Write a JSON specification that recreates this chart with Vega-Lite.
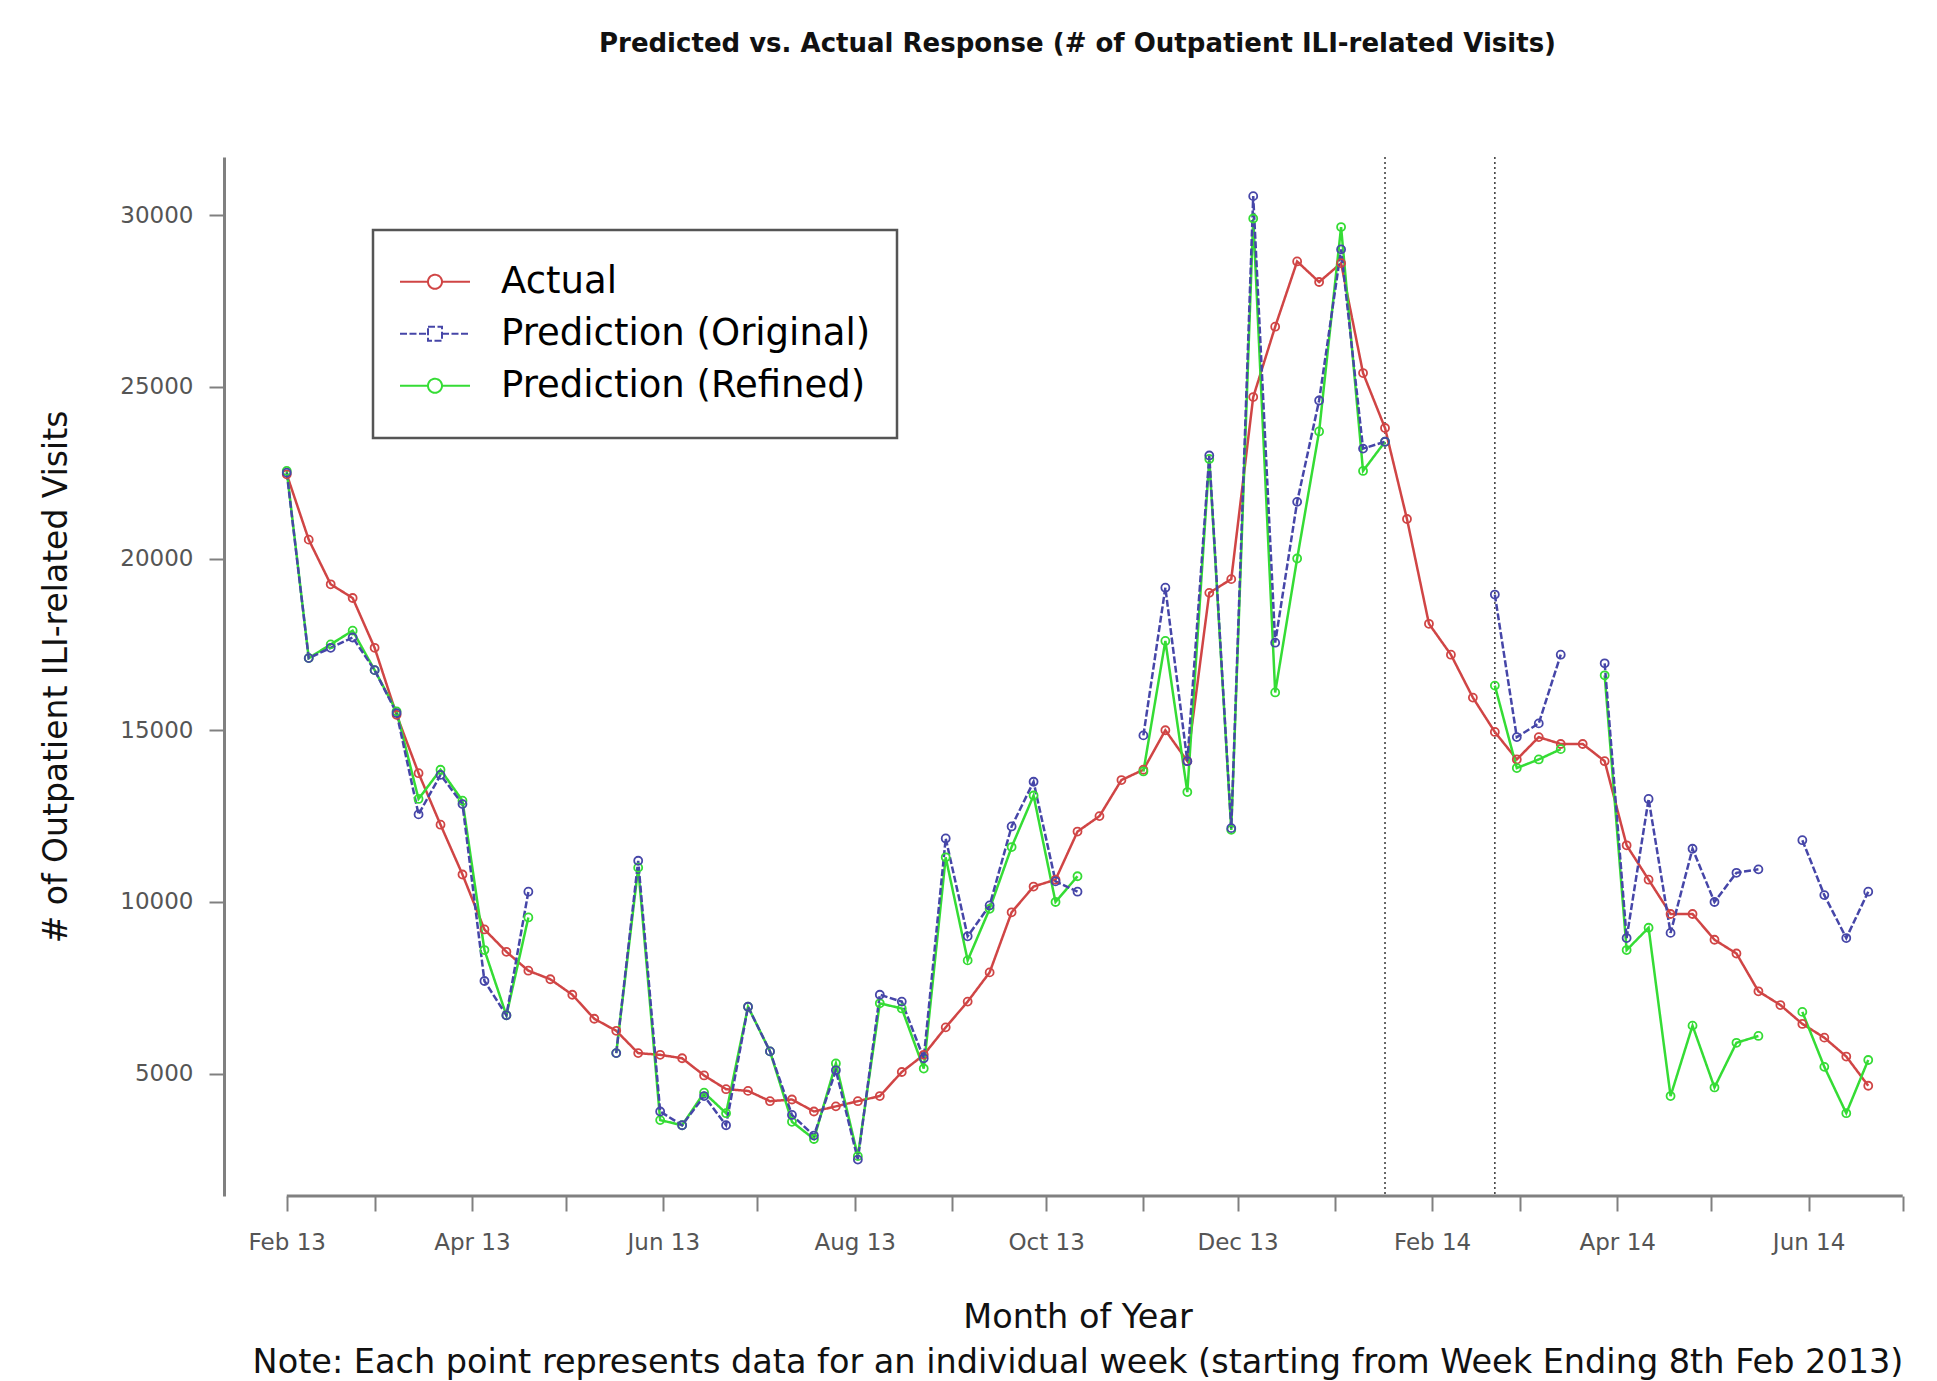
{
  "$schema": "https://vega.github.io/schema/vega-lite/v6.json",
  "width": 1707,
  "height": 1039,
  "autosize": "none",
  "padding": {"left": 224, "top": 157, "right": 6, "bottom": 185},
  "background": "white",
  "config": {"view": {"stroke": null}, "font": "DejaVu Sans"},
  "title": {
    "text": "Predicted vs. Actual Response (# of Outpatient ILI-related Visits)",
    "anchor": "middle",
    "frame": "group",
    "font": "DejaVu Sans",
    "fontSize": 26,
    "fontWeight": "bold",
    "color": "#111111",
    "baseline": "alphabetic",
    "offset": 78
  },
  "data": {
    "values": [
      {"d": "2013-02-08", "A": 22450, "O": 22500, "R": 22550},
      {"d": "2013-02-15", "A": 20550, "O": 17100, "R": 17100},
      {"d": "2013-02-22", "A": 19250, "O": 17400, "R": 17500},
      {"d": "2013-03-01", "A": 18850, "O": 17700, "R": 17900},
      {"d": "2013-03-08", "A": 17400, "O": 16750, "R": 16750},
      {"d": "2013-03-15", "A": 15450, "O": 15500, "R": 15550},
      {"d": "2013-03-22", "A": 13750, "O": 12550, "R": 13000},
      {"d": "2013-03-29", "A": 12250, "O": 13700, "R": 13850},
      {"d": "2013-04-05", "A": 10800, "O": 12850, "R": 12950},
      {"d": "2013-04-12", "A": 9200, "O": 7700, "R": 8600},
      {"d": "2013-04-19", "A": 8550, "O": 6700, "R": 6700},
      {"d": "2013-04-26", "A": 8000, "O": 10300, "R": 9550},
      {"d": "2013-05-03", "A": 7750, "O": null, "R": null},
      {"d": "2013-05-10", "A": 7300, "O": null, "R": null},
      {"d": "2013-05-17", "A": 6600, "O": null, "R": null},
      {"d": "2013-05-24", "A": 6250, "O": 5600, "R": 5600},
      {"d": "2013-05-31", "A": 5600, "O": 11200, "R": 11000},
      {"d": "2013-06-07", "A": 5550, "O": 3900, "R": 3650},
      {"d": "2013-06-14", "A": 5450, "O": 3500, "R": 3500},
      {"d": "2013-06-21", "A": 4950, "O": 4350, "R": 4450},
      {"d": "2013-06-28", "A": 4550, "O": 3500, "R": 3850},
      {"d": "2013-07-05", "A": 4500, "O": 6950, "R": 6950},
      {"d": "2013-07-12", "A": 4200, "O": 5650, "R": 5650},
      {"d": "2013-07-19", "A": 4250, "O": 3800, "R": 3600},
      {"d": "2013-07-26", "A": 3900, "O": 3200, "R": 3100},
      {"d": "2013-08-02", "A": 4050, "O": 5100, "R": 5300},
      {"d": "2013-08-09", "A": 4200, "O": 2500, "R": 2600},
      {"d": "2013-08-16", "A": 4350, "O": 7300, "R": 7050},
      {"d": "2013-08-23", "A": 5050, "O": 7100, "R": 6900},
      {"d": "2013-08-30", "A": 5550, "O": 5450, "R": 5150},
      {"d": "2013-09-06", "A": 6350, "O": 11850, "R": 11300},
      {"d": "2013-09-13", "A": 7100, "O": 9000, "R": 8300},
      {"d": "2013-09-20", "A": 7950, "O": 9900, "R": 9800},
      {"d": "2013-09-27", "A": 9700, "O": 12200, "R": 11600},
      {"d": "2013-10-04", "A": 10450, "O": 13500, "R": 13100},
      {"d": "2013-10-11", "A": 10650, "O": 10600, "R": 10000},
      {"d": "2013-10-18", "A": 12050, "O": 10300, "R": 10750},
      {"d": "2013-10-25", "A": 12500, "O": null, "R": null},
      {"d": "2013-11-01", "A": 13550, "O": null, "R": null},
      {"d": "2013-11-08", "A": 13850, "O": 14850, "R": 13800},
      {"d": "2013-11-15", "A": 15000, "O": 19150, "R": 17600},
      {"d": "2013-11-22", "A": 14100, "O": 14100, "R": 13200},
      {"d": "2013-11-29", "A": 19000, "O": 23000, "R": 22900},
      {"d": "2013-12-06", "A": 19400, "O": 12150, "R": 12100},
      {"d": "2013-12-13", "A": 24700, "O": 30550, "R": 29900},
      {"d": "2013-12-20", "A": 26750, "O": 17550, "R": 16100},
      {"d": "2013-12-27", "A": 28650, "O": 21650, "R": 20000},
      {"d": "2014-01-03", "A": 28050, "O": 24600, "R": 23700},
      {"d": "2014-01-10", "A": 28600, "O": 29000, "R": 29650},
      {"d": "2014-01-17", "A": 25400, "O": 23200, "R": 22550},
      {"d": "2014-01-24", "A": 23800, "O": 23400, "R": 23400},
      {"d": "2014-01-31", "A": 21150, "O": null, "R": null},
      {"d": "2014-02-07", "A": 18100, "O": null, "R": null},
      {"d": "2014-02-14", "A": 17200, "O": null, "R": null},
      {"d": "2014-02-21", "A": 15950, "O": null, "R": null},
      {"d": "2014-02-28", "A": 14950, "O": 18950, "R": 16300},
      {"d": "2014-03-07", "A": 14150, "O": 14800, "R": 13900},
      {"d": "2014-03-14", "A": 14800, "O": 15200, "R": 14150},
      {"d": "2014-03-21", "A": 14600, "O": 17200, "R": 14450},
      {"d": "2014-03-28", "A": 14600, "O": null, "R": null},
      {"d": "2014-04-04", "A": 14100, "O": 16950, "R": 16600},
      {"d": "2014-04-11", "A": 11650, "O": 8950, "R": 8600},
      {"d": "2014-04-18", "A": 10650, "O": 13000, "R": 9250},
      {"d": "2014-04-25", "A": 9650, "O": 9100, "R": 4350},
      {"d": "2014-05-02", "A": 9650, "O": 11550, "R": 6400},
      {"d": "2014-05-09", "A": 8900, "O": 10000, "R": 4600},
      {"d": "2014-05-16", "A": 8500, "O": 10850, "R": 5900},
      {"d": "2014-05-23", "A": 7400, "O": 10950, "R": 6100},
      {"d": "2014-05-30", "A": 7000, "O": null, "R": null},
      {"d": "2014-06-06", "A": 6450, "O": 11800, "R": 6800},
      {"d": "2014-06-13", "A": 6050, "O": 10200, "R": 5200},
      {"d": "2014-06-20", "A": 5500, "O": 8950, "R": 3850},
      {"d": "2014-06-27", "A": 4650, "O": 10300, "R": 5400}
    ]
  },
  "layer": [
    {
      "data": {"values": [{"d": "2014-01-24"}, {"d": "2014-02-28"}]},
      "mark": {"type": "rule", "color": "#444444", "strokeWidth": 1.6, "strokeDash": [2, 3]},
      "encoding": {"x": {"field": "d", "type": "temporal"}}
    },
    {
      "data": {"values": [{}]},
      "mark": {"type": "rule", "color": "#808080", "strokeWidth": 3},
      "encoding": {
        "x": {"datum": {"year": 2013, "month": 2, "date": 8, "utc": true}, "type": "temporal"},
        "x2": {"datum": {"year": 2014, "month": 7, "date": 8, "utc": true}},
        "y": {"datum": 1440, "type": "quantitative"}
      }
    },
    {
      "transform": [{"fold": ["A", "R", "O"], "as": ["s", "v"]}],
      "mark": {"type": "line", "strokeWidth": 2.5, "invalid": "break-paths-filter-domains"},
      "encoding": {
        "x": {
          "field": "d",
          "type": "temporal",
          "scale": {
            "type": "utc",
            "nice": false,
            "domain": [
              {"year": 2013, "month": 1, "date": 19, "utc": true},
              {"year": 2014, "month": 7, "date": 17, "utc": true}
            ]
          },
          "axis": {
            "values": [
              {"year": 2013, "month": 2, "date": 8, "utc": true},
              {"year": 2013, "month": 3, "date": 8, "utc": true},
              {"year": 2013, "month": 4, "date": 8, "utc": true},
              {"year": 2013, "month": 5, "date": 8, "utc": true},
              {"year": 2013, "month": 6, "date": 8, "utc": true},
              {"year": 2013, "month": 7, "date": 8, "utc": true},
              {"year": 2013, "month": 8, "date": 8, "utc": true},
              {"year": 2013, "month": 9, "date": 8, "utc": true},
              {"year": 2013, "month": 10, "date": 8, "utc": true},
              {"year": 2013, "month": 11, "date": 8, "utc": true},
              {"year": 2013, "month": 12, "date": 8, "utc": true},
              {"year": 2014, "month": 1, "date": 8, "utc": true},
              {"year": 2014, "month": 2, "date": 8, "utc": true},
              {"year": 2014, "month": 3, "date": 8, "utc": true},
              {"year": 2014, "month": 4, "date": 8, "utc": true},
              {"year": 2014, "month": 5, "date": 8, "utc": true},
              {"year": 2014, "month": 6, "date": 8, "utc": true},
              {"year": 2014, "month": 7, "date": 8, "utc": true}
            ],
            "labelExpr": "utcmonth(datum.value) % 2 == 1 ? utcFormat(datum.value, '%b %y') : ''",
            "labelOverlap": false,
            "labelFlush": false,
            "labelFont": "DejaVu Sans",
            "labelFontSize": 23,
            "labelColor": "#555555",
            "labelPadding": 20,
            "tickSize": 15,
            "tickWidth": 2,
            "tickColor": "#808080",
            "domain": false,
            "grid": false,
            "title": ["Month of Year", "Note: Each point represents data for an individual week (starting from Week Ending 8th Feb 2013)"],
            "titleFont": "DejaVu Sans",
            "titleFontSize": 33.5,
            "titleFontWeight": "normal",
            "titleColor": "#111111",
            "titleLineHeight": 45,
            "titleBaseline": "alphabetic",
            "titleY": 131
          }
        },
        "y": {
          "field": "v",
          "type": "quantitative",
          "scale": {"domain": [1440, 31690], "nice": false, "zero": false},
          "axis": {
            "values": [5000, 10000, 15000, 20000, 25000, 30000],
            "format": "d",
            "labelFont": "DejaVu Sans",
            "labelFontSize": 23,
            "labelColor": "#555555",
            "labelPadding": 16,
            "tickSize": 15,
            "tickWidth": 2,
            "tickColor": "#808080",
            "domainColor": "#808080",
            "domainWidth": 3,
            "grid": false,
            "title": "# of Outpatient ILI-related Visits",
            "titleFont": "DejaVu Sans",
            "titleFontSize": 33,
            "titleFontWeight": "normal",
            "titleColor": "#111111",
            "titleX": -168,
            "titleBaseline": "middle"
          }
        },
        "color": {
          "field": "s",
          "type": "nominal",
          "scale": {"domain": ["A", "O", "R"], "range": ["#d04545", "#4646a8", "#35dc35"]},
          "legend": {
            "orient": "none",
            "legendX": 149,
            "legendY": 73,
            "title": null,
            "padding": 26,
            "fillColor": "white",
            "strokeColor": "#555555",
            "symbolSize": 4900,
            "symbolStrokeWidth": 2,
            "symbolType": "M-1,0H-0.2M0.2,0H1M0.2,0A0.2,0.2,0,1,1,-0.2,0A0.2,0.2,0,1,1,0.2,0Z",
            "clipHeight": 51.5,
            "rowPadding": 0,
            "labelOffset": 30,
            "labelFont": "DejaVu Sans",
            "labelFontSize": 37,
            "labelColor": "#000000",
            "labelLimit": 700,
            "labelExpr": "datum.label == 'A' ? 'Actual' : datum.label == 'O' ? 'Prediction (Original)' : 'Prediction (Refined)'",
            "encode": {
              "symbols": {
                "update": {
                  "shape": {"signal": "datum.value === 'O' ? 'M-1,0H-0.2M0.2,0H1M-0.2,-0.2H0.2V0.2H-0.2Z' : 'M-1,0H-0.2M0.2,0H1M0.2,0A0.2,0.2,0,1,1,-0.2,0A0.2,0.2,0,1,1,0.2,0Z'"},
                  "fill": {"value": "white"}
                }
              },
              "legend": {"update": {"strokeWidth": {"value": 2.5}}}
            }
          }
        },
        "strokeDash": {
          "field": "s",
          "type": "nominal",
          "scale": {"domain": ["A", "O", "R"], "range": [[1, 0], [7, 2.5], [1, 0]]}
        }
      }
    },
    {
      "transform": [{"fold": ["A", "R", "O"], "as": ["s", "v"]}],
      "mark": {"type": "point", "filled": false, "size": 64, "strokeWidth": 1.8, "opacity": 1},
      "encoding": {
        "x": {"field": "d", "type": "temporal"},
        "y": {"field": "v", "type": "quantitative"},
        "color": {"field": "s", "type": "nominal"}
      }
    }
  ]
}
